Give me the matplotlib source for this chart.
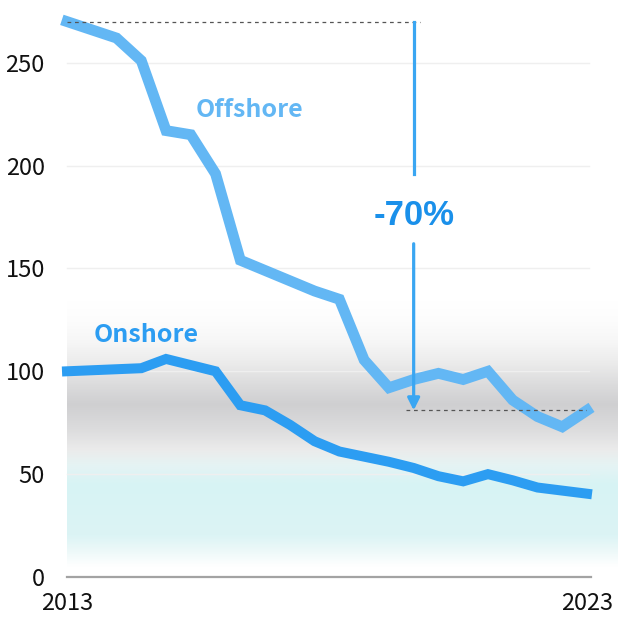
import matplotlib
matplotlib.use("Agg")
import matplotlib.pyplot as plt
import numpy as np
from matplotlib.colors import LinearSegmentedColormap

# half-yearly points, 2013 .. 2023
periods = list(range(22))
tick_positions = [0, 21]
tick_labels = ["2013", "2023"]

offshore = [270, 266, 262, 251, 217, 215, 196, 154, 149, 144, 139, 135,
            105.5, 92, 96, 99, 96, 100, 86, 78, 73, 81]
onshore = [100, 100.5, 101, 101.5, 106, 103, 100, 83.5, 81, 74, 66, 61,
           58.5, 56, 53, 49, 46.5, 50, 47, 43.5, 42, 40.5]

change_label = "-70%"
change_x = 14

OFF_COLOR = "#63b7f4"
ON_COLOR = "#2c9df2"
ARROW_COLOR = "#3aa6f2"
TEXT_FONT = ["Noto Sans CJK SC", "DejaVu Sans"]

fig = plt.figure(figsize=(6.18, 6.18), dpi=100)
ax = fig.add_axes([67 / 618, 41 / 618, 520 / 618, 565.7 / 618])

# background band: white -> pale cyan -> grey -> white (bottom to top)
stops = [(0, "#ffffff"), (5, "#ffffff"), (12, "#eef9f9"), (20, "#dcf4f5"),
         (45, "#d7f3f4"), (54, "#e5f4f4"), (62, "#ebebeb"), (72, "#dcdcdd"),
         (84, "#cfcfd1"), (94, "#dcdcdd"), (104, "#ebebeb"), (114, "#f6f6f6"),
         (124, "#fcfcfc"), (134, "#ffffff"), (140, "#ffffff")]
cmap = LinearSegmentedColormap.from_list(
    "band", [(v / 140, c) for v, c in stops], N=512)
grad = np.linspace(0, 1, 560).reshape(-1, 1)
ax.imshow(grad, cmap=cmap, aspect="auto", origin="lower", interpolation="bilinear",
          extent=(0, 22.3, 0, 140), zorder=0, clip_on=False)

for y in range(50, 251, 50):
    ax.plot([0, 21.1], [y, y], color="#efefef", lw=1, zorder=0.5, clip_on=False)
ax.plot([0, 21.15], [0, 0], color="#a3a3a3", lw=1.6, zorder=1, clip_on=False)

ax.plot(periods, offshore, color=OFF_COLOR, lw=7.8, solid_joinstyle="miter",
        zorder=3, clip_on=False)
ax.plot(periods, onshore, color=ON_COLOR, lw=7.2, solid_joinstyle="miter",
        zorder=3, clip_on=False)

start, end = offshore[0], offshore[-1]
ax.plot([0, change_x + 0.25], [start, start], color="#555555", lw=0.9,
        ls=(0, (3, 3)), zorder=4)
ax.plot([change_x - 0.3, 21], [end, end], color="#555555", lw=0.9,
        ls=(0, (3, 3)), zorder=4)

ax.plot([change_x, change_x], [start, 196], color=ARROW_COLOR, lw=2.3, zorder=4)
ax.annotate("", xy=(change_x, end), xytext=(change_x, 162),
            arrowprops=dict(arrowstyle="-|>", color=ARROW_COLOR, lw=2.3,
                            mutation_scale=18, shrinkA=0, shrinkB=0),
            zorder=4)
ax.text(change_x, 175.5, change_label, color="#1a90ea", fontsize=25,
        fontweight="bold", family=["Liberation Sans", "DejaVu Sans"],
        ha="center", va="center", zorder=5)

ax.text(7.35, 227, "Offshore", color=OFF_COLOR, fontsize=18, fontweight="bold",
        family=TEXT_FONT, ha="center", va="center", zorder=5)
ax.text(3.2, 117.5, "Onshore", color=ON_COLOR, fontsize=18, fontweight="bold",
        family=TEXT_FONT, ha="center", va="center", zorder=5)

ax.set_xlim(0, 21)
ax.set_ylim(0, 275)
ax.set_yticks(range(0, 251, 50))
ax.set_xticks(tick_positions)
ax.set_xticklabels(tick_labels)
ax.tick_params(axis="both", length=0, labelsize=17, colors="#111111")
ax.tick_params(axis="y", pad=16)
ax.tick_params(axis="x", pad=11)
for lab in ax.get_xticklabels() + ax.get_yticklabels():
    lab.set_family(TEXT_FONT)
for s in ax.spines.values():
    s.set_visible(False)

fig.savefig("out.png", dpi=100)
